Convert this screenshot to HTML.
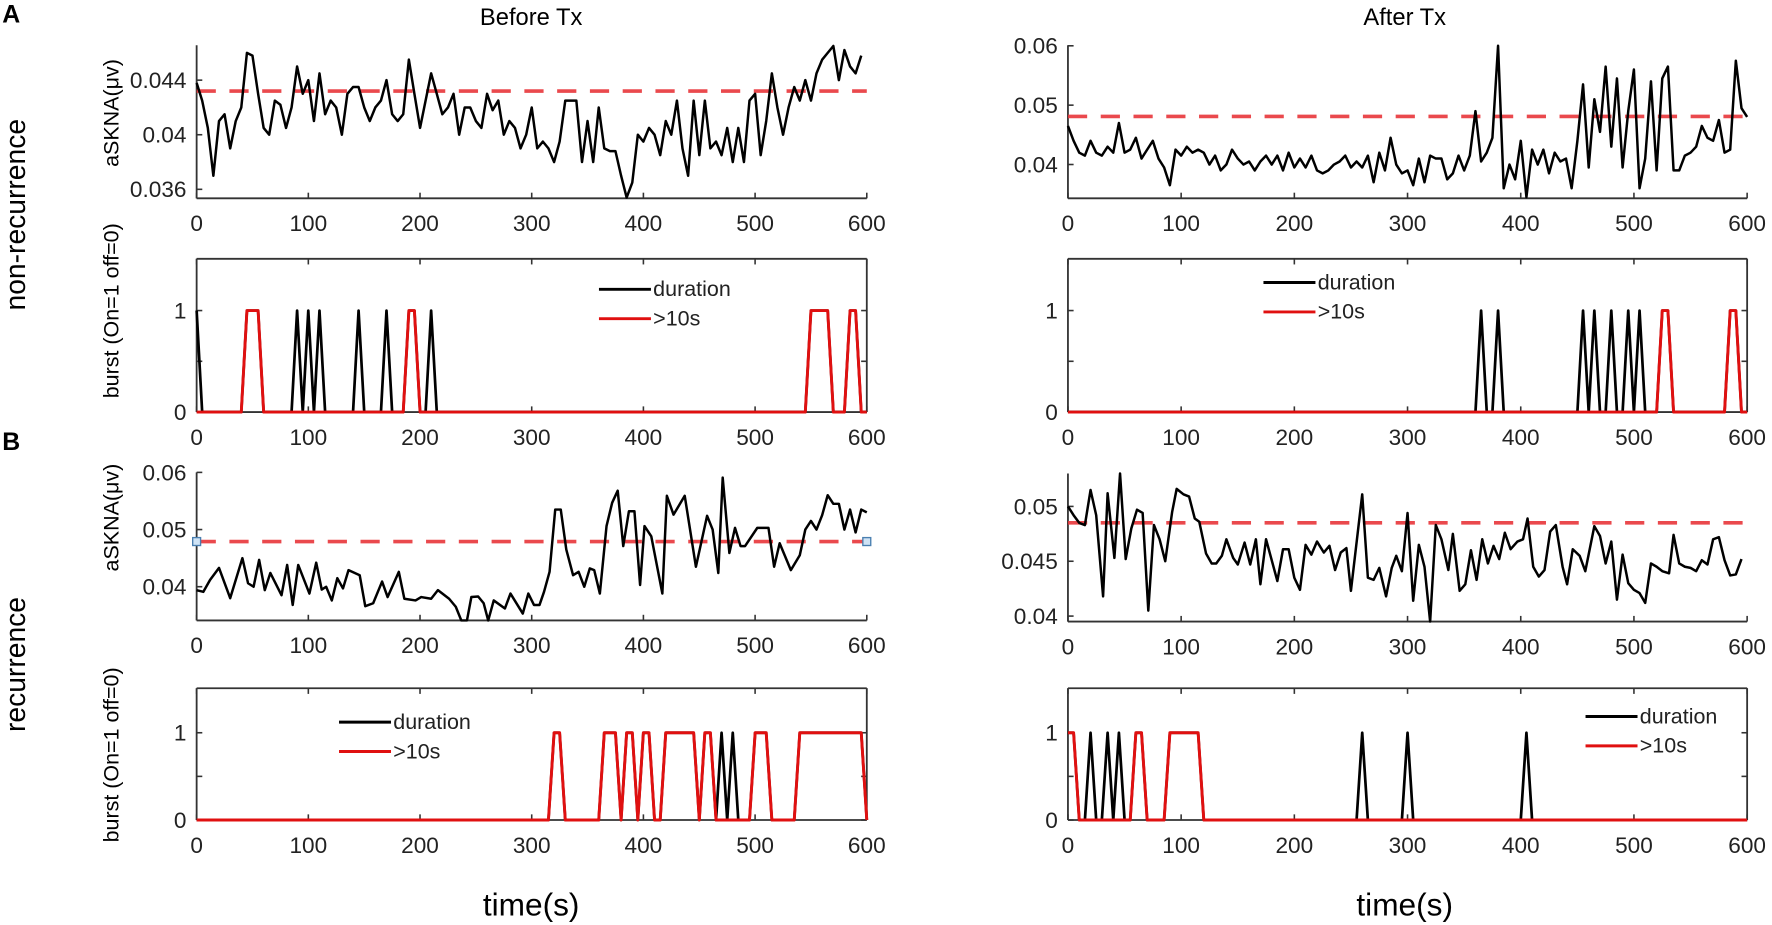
<!DOCTYPE html>
<html><head><meta charset="utf-8"><style>
html,body{margin:0;padding:0;background:#fff;}
svg{display:block;font-family:"Liberation Sans",Arial,sans-serif;}
</style></head><body>
<svg id="fig" width="1772" height="925" viewBox="0 0 1568 818.5" preserveAspectRatio="none" xmlns="http://www.w3.org/2000/svg">
<rect x="0" y="0" width="1568" height="818.5" fill="#fff"/>
<text x="2" y="20" font-size="22" font-weight="bold">A</text>
<text x="2" y="398" font-size="22" font-weight="bold">B</text>
<text x="470" y="22" font-size="21" text-anchor="middle">Before Tx</text>
<text x="1243" y="22" font-size="21" text-anchor="middle">After Tx</text>
<text transform="translate(22,190) rotate(-90)" font-size="25" text-anchor="middle">non-recurrence</text>
<text transform="translate(22,588) rotate(-90)" font-size="25" text-anchor="middle">recurrence</text>
<text transform="translate(105,100) rotate(-90)" font-size="19" text-anchor="middle">aSKNA(μv)</text>
<text transform="translate(105,275) rotate(-90)" font-size="19" text-anchor="middle">burst (On=1 off=0)</text>
<text transform="translate(105,458) rotate(-90)" font-size="19" text-anchor="middle">aSKNA(μv)</text>
<text transform="translate(105,668) rotate(-90)" font-size="19" text-anchor="middle">burst (On=1 off=0)</text>
<text x="470" y="810" font-size="28" text-anchor="middle">time(s)</text>
<text x="1243" y="810" font-size="28" text-anchor="middle">time(s)</text>
</svg>
<script>
const SAMPLE_STEP = 5;
const xTicks = [0,100,200,300,400,500,600];
const xTickLabels = ['0','100','200','300','400','500','600'];
const a1Values = [.0438,.0425,.0405,.037,.041,.0415,.039,.041,.042,.046,.0458,.043,.0405,.040,.0425,.0422,.0405,.042,.045,.043,.044,.041,.0445,.0415,.0425,.042,.040,.043,.0435,.0435,.042,.041,.042,.0425,.044,.0415,.041,.0415,.0455,.043,.0405,.0425,.0445,.043,.0415,.042,.043,.040,.042,.042,.041,.0405,.043,.0418,.0425,.040,.041,.0405,.039,.040,.042,.039,.0395,.039,.038,.0395,.0425,.0425,.0425,.038,.041,.038,.042,.039,.0388,.0388,.037,.0354,.0365,.040,.0395,.0405,.040,.0385,.041,.040,.0425,.039,.037,.0425,.0385,.0425,.039,.0395,.0385,.0405,.038,.0405,.038,.0425,.043,.0385,.041,.0445,.042,.040,.042,.0435,.0425,.044,.0425,.0445,.0455,.046,.0465,.044,.0462,.045,.0445,.0458];
const a2Values = [.0465,.044,.042,.0415,.044,.042,.0415,.043,.042,.047,.042,.0425,.0445,.041,.0425,.044,.041,.0395,.0365,.0425,.0415,.043,.042,.0425,.042,.040,.0415,.039,.040,.0425,.041,.040,.0405,.039,.0405,.0415,.040,.0415,.039,.042,.0395,.041,.0395,.0415,.039,.0385,.039,.040,.0405,.0415,.0395,.0405,.0395,.0415,.037,.042,.039,.0445,.040,.0385,.039,.0365,.041,.037,.0415,.041,.041,.0375,.0385,.0415,.039,.0415,.049,.0405,.042,.0445,.060,.036,.040,.0375,.044,.0345,.0425,.040,.0425,.0385,.042,.0405,.041,.036,.044,.0535,.0395,.051,.0455,.0565,.043,.0545,.0395,.049,.056,.036,.041,.054,.039,.0545,.0565,.039,.039,.0415,.042,.043,.0465,.0445,.044,.0475,.042,.0425,.0575,.0495,.048];
const b1Times = [0,6,12,20,30,41,46,51,56,61,66,76,81,86,91,101,107,112,116,121,126,131,136,146,151,158,166,171,181,186,196,201,210,216,226,232,237,242,246,252,257,261,266,276,281,292,297,302,307,311,316,321,326,331,337,342,347,352,356,361,367,372,377,382,387,392,397,401,407,417,421,427,437,447,457,462,467,471,477,482,487,491,502,512,517,522,532,540,545,550,555,560,565,570,575,580,585,590,595,600];
const b1Values = [.0394,.0391,.0412,.0433,.038,.045,.0406,.040,.0447,.0394,.0424,.0385,.0438,.0368,.0438,.0388,.0442,.0395,.040,.0376,.0415,.0397,.0429,.042,.0366,.0371,.0409,.0382,.0426,.0379,.0376,.0382,.0379,.0394,.0379,.0365,.0341,.0341,.0382,.0383,.0371,.0341,.0376,.0362,.0388,.0353,.0388,.0368,.0368,.0391,.0426,.0535,.0535,.0465,.042,.0426,.040,.0432,.0429,.0388,.0506,.0547,.0568,.0471,.0532,.0532,.0403,.0506,.0488,.0388,.0559,.0526,.0559,.0435,.0524,.050,.0424,.0591,.0459,.0503,.0471,.0471,.0503,.0503,.0435,.0476,.0429,.0455,.050,.0515,.050,.0525,.056,.0545,.0545,.050,.0535,.0495,.0535,.053];
const b2Times = [0,5,10,15,20,25,31,35,41,46,51,56,61,66,71,76,81,86,92,96,102,107,112,116,122,127,131,136,140,146,150,156,161,166,170,175,185,190,195,200,205,210,215,220,226,231,236,241,246,250,260,265,270,275,281,286,290,295,300,305,310,315,320,325,330,336,340,346,351,356,361,366,371,376,381,386,391,397,402,406,411,416,421,426,431,437,441,446,452,457,465,470,475,480,485,490,495,500,505,510,515,520,525,531,535,540,545,550,555,560,565,570,575,580,585,590,595];
const b2Values = [.050,.0492,.0485,.0483,.0515,.0492,.0418,.0512,.0453,.053,.0452,.048,.0497,.0494,.0405,.0483,.047,.045,.0495,.0516,.0511,.0509,.0489,.0486,.0457,.0448,.0448,.0455,.047,.0453,.0447,.0467,.0447,.047,.0429,.047,.0432,.0461,.0461,.0435,.0424,.0465,.0456,.0468,.0458,.0464,.0442,.0458,.0462,.0423,.0511,.0435,.0433,.0444,.0418,.0444,.0455,.0441,.0494,.0414,.0465,.0445,.0395,.0483,.047,.0442,.0475,.0423,.0429,.046,.0433,.047,.0448,.0464,.0452,.0476,.0461,.0468,.047,.0489,.0445,.0436,.0442,.0477,.0483,.0445,.0429,.0461,.0455,.0441,.0482,.0473,.0448,.0468,.0415,.0456,.043,.0424,.0421,.0412,.0448,.0445,.0441,.0439,.0474,.0448,.0445,.0444,.0441,.0451,.0447,.047,.0472,.0451,.0437,.0438,.0452];
const a1Threshold = [0.0432];
const a2Threshold = [0.0481];
const b1Threshold = [0.0479];
const b2Threshold = [0.0485];
const aLeftDurationOn = [0,45,50,55,90,100,110,145,170,190,195,210,550,555,560,565,585,590];
const aLeftLongOn = [45,50,55,190,195,550,555,560,565,585,590];
const aRightDurationOn = [365,380,455,465,480,495,505,525,530,585,590];
const aRightLongOn = [525,530,585,590];
const bLeftDurationOn = [320,325,365,370,375,385,390,400,405,420,425,430,435,440,445,455,460,470,480,500,505,510,540,545,550,555,560,565,570,575,580,585,590,595];
const bLeftLongOn = [320,325,365,370,375,385,390,400,405,420,425,430,435,440,445,455,460,500,505,510,540,545,550,555,560,565,570,575,580,585,590,595];
const bRightDurationOn = [0,5,20,35,45,60,65,90,95,100,105,110,115,260,300,405];
const bRightLongOn = [0,5,60,65,90,95,100,105,110,115];

const NS='http://www.w3.org/2000/svg';
const svg=document.getElementById('fig');
function mk(tag,attrs,parent){const e=document.createElementNS(NS,tag);for(const k in attrs)e.setAttribute(k,attrs[k]);(parent||svg).appendChild(e);return e;}
function sx(p,t){return p.x0+(t/600)*(p.x1-p.x0);}
function sy(p,v){return p.yb+(v-p.v0)/(p.v1-p.v0)*(p.yt-p.yb);}
const AX='#333';

function axes(p,name,ticks,labels,box){
  const g=mk('g',{});
  
  
  mk('line',{x1:p.x0,y1:p.yb,x2:p.x1,y2:p.yb,stroke:AX,'stroke-width':1.6},g);
  mk('line',{x1:p.x0,y1:p.yb,x2:p.x0,y2:p.yt,stroke:AX,'stroke-width':1.6},g);
  if(box){
    mk('line',{x1:p.x0,y1:p.yt,x2:p.x1,y2:p.yt,stroke:AX,'stroke-width':1.6},g);
    mk('line',{x1:p.x1,y1:p.yt,x2:p.x1,y2:p.yb,stroke:AX,'stroke-width':1.6},g);
  }
  xTicks.forEach((t,i)=>{
    const x=sx(p,t);
    mk('line',{x1:x,y1:p.yb,x2:x,y2:p.yb-5,stroke:AX,'stroke-width':1.4},g);
    if(box) mk('line',{x1:x,y1:p.yt,x2:x,y2:p.yt+5,stroke:AX,'stroke-width':1.4},g);
    const tx=mk('text',{x:x,y:p.yb+29,'font-size':20,'text-anchor':'middle',fill:'#222'},g);
    
    
    tx.textContent=xTickLabels[i];
  });
  ticks.forEach((v,i)=>{
    const y=sy(p,v);
    mk('line',{x1:p.x0,y1:y,x2:p.x0+5,y2:y,stroke:AX,'stroke-width':1.4},g);
    if(box) mk('line',{x1:p.x1,y1:y,x2:p.x1-5,y2:y,stroke:AX,'stroke-width':1.4},g);
    if(labels[i]!==''){
      const ty=mk('text',{x:p.x0-9,y:y+7,'font-size':20,'text-anchor':'end',fill:'#222'},g);
      
      
      ty.textContent=labels[i];
    }
  });
}
function series(p,times,vals,color,name,w){
  const pts=times.map((t,i)=>sx(p,t).toFixed(1)+','+sy(p,vals[i]).toFixed(1)).join(' ');
  const pl=mk('polyline',{points:pts,fill:'none',stroke:color,'stroke-width':w||2.2,'stroke-linejoin':'round'});
  
  
}
function uniform(vals){return vals.map((v,i)=>i*SAMPLE_STEP);}
function threshold(p,val,name){
  const y=sy(p,val[0]);
  const l=mk('line',{x1:p.x0,y1:y,x2:p.x1,y2:y,stroke:'#e8353a','stroke-width':3.2,'stroke-dasharray':'17 12','stroke-opacity':0.9});
  
  
}
function burstSeries(on){const t=[],v=[];for(let s=0;s<=600;s+=SAMPLE_STEP){t.push(s);v.push(on.includes(s)?1:0);}return [t,v];}
function legend(x,y,name){
  const g=mk('g',{});
  
  
  mk('line',{x1:x,y1:y,x2:x+46,y2:y,stroke:'#000','stroke-width':2.6},g);
  const t1=mk('text',{x:x+48,y:y+6,'font-size':19,fill:'#222'},g);t1.textContent='duration';
  mk('line',{x1:x,y1:y+26,x2:x+46,y2:y+26,stroke:'#e01010','stroke-width':2.6},g);
  const t2=mk('text',{x:x+48,y:y+32,'font-size':19,fill:'#222'},g);t2.textContent='>10s';
}

const pA1={x0:174,x1:767,yt:40,yb:175.5,v0:0.03534,v1:0.04656};
const pA2={x0:945,x1:1546,yt:40,yb:175.5,v0:0.0343,v1:0.0601};
const pA3={x0:174,x1:767,yt:229,yb:364.6,v0:0,v1:1.51};
const pA4={x0:945,x1:1546,yt:229,yb:364.6,v0:0,v1:1.51};
const pB1={x0:174,x1:767,yt:418,yb:549,v0:0.0341,v1:0.0600};
const pB2={x0:945,x1:1546,yt:419,yb:550,v0:0.0395,v1:0.0530};
const pB3={x0:174,x1:767,yt:609,yb:725.6,v0:0,v1:1.51};
const pB4={x0:945,x1:1546,yt:609,yb:725.6,v0:0,v1:1.51};

axes(pA1,'a-before-askna',[0.036,0.04,0.044],['0.036','0.04','0.044'],false);
threshold(pA1,a1Threshold,'a-before-threshold');
series(pA1,uniform(a1Values),a1Values,'#000','a-before-askna-line');

axes(pA2,'a-after-askna',[0.04,0.05,0.06],['0.04','0.05','0.06'],false);
threshold(pA2,a2Threshold,'a-after-threshold');
series(pA2,uniform(a2Values),a2Values,'#000','a-after-askna-line');

axes(pB1,'b-before-askna',[0.04,0.05,0.06],['0.04','0.05','0.06'],false);
threshold(pB1,b1Threshold,'b-before-threshold');
series(pB1,b1Times,b1Values,'#000','b-before-askna-line');
[0,600].forEach(t=>{const r=mk('rect',{x:sx(pB1,t)-3.5,y:sy(pB1,b1Threshold[0])-3.5,width:7,height:7,fill:'#cfe3f5',stroke:'#4a7fb0','stroke-width':1.2});

});

axes(pB2,'b-after-askna',[0.04,0.045,0.05],['0.04','0.045','0.05'],false);
threshold(pB2,b2Threshold,'b-after-threshold');
series(pB2,b2Times,b2Values,'#000','b-after-askna-line');

[[pA3,aLeftDurationOn,aLeftLongOn,'a-before'],[pA4,aRightDurationOn,aRightLongOn,'a-after'],[pB3,bLeftDurationOn,bLeftLongOn,'b-before'],[pB4,bRightDurationOn,bRightLongOn,'b-after']].forEach(([p,d,l,n])=>{
  axes(p,n+'-burst',[0,0.5,1],['0','','1'],true);
  const [t1,v1]=burstSeries(d);series(p,t1,v1,'#000',n+'-duration-line',2.4);
  const [t2,v2]=burstSeries(l);series(p,t2,v2,'#e01010',n+'-long-burst-line',2.6);
});
legend(530,256,'a-before-legend');
legend(1118,250,'a-after-legend');
legend(300,639,'b-before-legend');
legend(1403,634,'b-after-legend');
</script>
</body></html>
